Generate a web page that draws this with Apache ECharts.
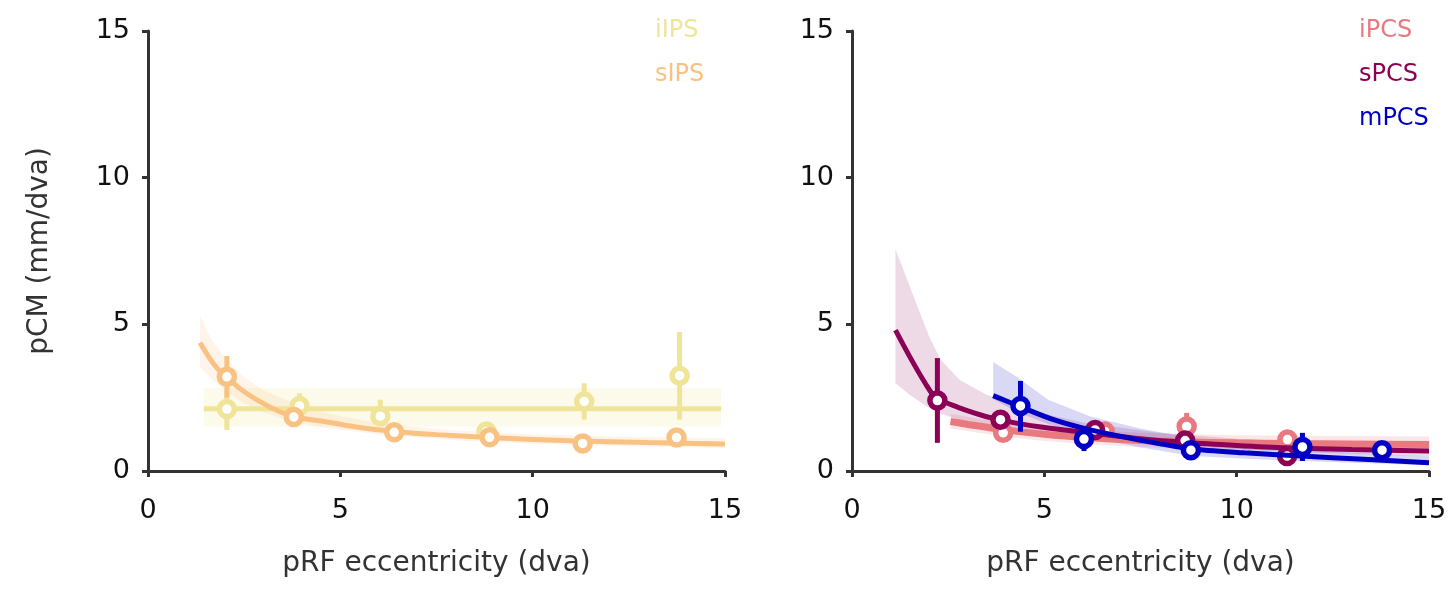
<!DOCTYPE html>
<html>
<head>
<meta charset="utf-8">
<script src="https://cdn.jsdelivr.net/npm/echarts@6/dist/echarts.min.js"></script>
<style>
html,body{margin:0;padding:0;background:#fff;}
#chart{width:1450px;height:589px;}
</style>
</head>
<body>
<div id="chart"></div>
<script>
// ---------- Data ----------
var xTicks = [0, 5, 10, 15];
var yTicks = [0, 5, 10, 15];

// Left panel: iIPS
var iIPS_x = [2.05, 3.94, 6.04, 8.8, 11.34, 13.82];
var iIPS_y = [2.11, 2.22, 1.87, 1.35, 2.37, 3.25];
var iIPS_lo = [1.40, 2.00, 1.70, 1.25, 1.75, 1.75];
var iIPS_hi = [2.75, 2.65, 2.43, 1.50, 2.99, 4.74];
var iIPS_fitX = [1.45, 14.9];
var iIPS_fitY = [2.12, 2.12];
var iIPS_bandHi = [2.82, 2.82];
var iIPS_bandLo = [1.52, 1.52];

// Left panel: sIPS
var sIPS_x = [2.05, 3.79, 6.4, 8.88, 11.3, 13.74];
var sIPS_y = [3.21, 1.84, 1.32, 1.15, 0.94, 1.14];
var sIPS_lo = [2.50, 1.78, 1.26, 1.10, 0.90, 1.08];
var sIPS_hi = [3.92, 1.92, 1.40, 1.22, 1.00, 1.20];
var sIPS_fitX = [1.35, 1.6, 1.8, 2.05, 2.4, 2.8, 3.3, 3.8, 4.7, 5.5, 6.4, 7.5, 9, 11, 13, 15];
var sIPS_fitY = [4.37, 3.85, 3.5, 3.2, 2.8, 2.45, 2.1, 1.85, 1.66, 1.48, 1.35, 1.24, 1.13, 1.03, 0.97, 0.92];
var sIPS_bandX = [1.35, 1.6, 2.0, 2.5, 3.0, 3.7, 4.7, 6, 8, 10, 12, 15];
var sIPS_bandHi = [5.3, 4.6, 3.85, 3.2, 2.75, 2.36, 1.95, 1.62, 1.38, 1.25, 1.18, 1.12];
var sIPS_bandLo = [3.55, 3.2, 2.75, 2.3, 2.0, 1.7, 1.45, 1.25, 1.05, 0.93, 0.86, 0.78];

// Right panel: iPCS
var iPCS_x = [3.93, 6.57, 8.7, 11.32];
var iPCS_y = [1.30, 1.35, 1.52, 1.07];
var iPCS_lo = [1.22, 1.28, 1.35, 0.95];
var iPCS_hi = [1.38, 1.42, 1.98, 1.20];
var iPCS_fitX = [2.56, 3.2, 3.93, 5, 6.2, 7.5, 8.7, 10, 11.3, 13, 15];
var iPCS_fitY = [1.69, 1.55, 1.41, 1.25, 1.13, 1.04, 0.99, 0.96, 0.94, 0.92, 0.9];
var iPCS_bandHi = [1.95, 1.8, 1.66, 1.5, 1.38, 1.3, 1.25, 1.22, 1.2, 1.19, 1.18];
var iPCS_bandLo = [1.45, 1.32, 1.18, 1.02, 0.9, 0.82, 0.76, 0.72, 0.7, 0.68, 0.66];

// Right panel: sPCS
var sPCS_x = [2.22, 3.86, 6.32, 8.66, 11.31];
var sPCS_y = [2.40, 1.75, 1.40, 1.04, 0.51];
var sPCS_lo = [0.96, 1.68, 1.33, 0.97, 0.45];
var sPCS_hi = [3.85, 1.82, 1.47, 1.11, 0.57];
var sPCS_fitX = [1.13, 1.5, 1.9, 2.2, 2.5, 2.9, 3.5, 4.2, 5.2, 6.2, 7.5, 8.7, 10, 11.3, 13, 15];
var sPCS_fitY = [4.8, 3.9, 3.0, 2.45, 2.3, 2.1, 1.85, 1.65, 1.45, 1.3, 1.1, 0.97, 0.87, 0.79, 0.73, 0.68];
var sPCS_bandX = [1.13, 1.5, 2.0, 2.3, 2.8, 3.5, 4.5, 6, 8, 10, 12, 15];
var sPCS_bandHi = [7.56, 6.3, 4.6, 3.8, 3.1, 2.6, 2.1, 1.65, 1.3, 1.1, 0.98, 0.9];
var sPCS_bandLo = [2.99, 2.6, 2.15, 1.95, 1.75, 1.55, 1.35, 1.15, 0.9, 0.75, 0.62, 0.5];

// Right panel: mPCS
var mPCS_x = [4.38, 6.03, 8.81, 11.71, 13.78];
var mPCS_y = [2.22, 1.09, 0.71, 0.82, 0.71];
var mPCS_lo = [1.34, 0.68, 0.62, 0.34, 0.62];
var mPCS_hi = [3.07, 1.41, 0.82, 1.30, 0.82];
var mPCS_fitX = [3.67, 4.36, 5.24, 6.17, 7.5, 8.81, 10.2, 11.68, 13.3, 15];
var mPCS_fitY = [2.57, 2.2, 1.75, 1.41, 1.05, 0.76, 0.62, 0.51, 0.4, 0.28];
var mPCS_bandX = [3.67, 4.3, 5.1, 6.2, 7.5, 8.8, 10.2, 11.5, 13, 15];
var mPCS_bandHi = [3.72, 3.2, 2.43, 1.86, 1.45, 1.13, 0.9, 0.75, 0.62, 0.5];
var mPCS_bandLo = [2.45, 2.0, 1.6, 1.15, 0.8, 0.52, 0.42, 0.35, 0.28, 0.2];

// ---------- Styling ----------
var FONT = 'DejaVu Sans';
var COL = {
  iIPS: '#f0e498', sIPS: '#f9c283',
  iPCS: '#e8797f', sPCS: '#8c0056', mPCS: '#0000c4'
};
var BAND = {
  iIPS: 'rgba(240,228,152,0.2)', sIPS: 'rgba(249,194,131,0.18)',
  iPCS: 'rgba(232,121,127,0.18)', sPCS: 'rgba(140,0,86,0.15)', mPCS: 'rgba(0,0,196,0.15)'
};

function zip(a, b) { return a.map(function (v, i) { return [v, b[i]]; }); }

function bandSeries(gi, xs, hi, lo, color) {
  return {
    type: 'custom', xAxisIndex: gi, yAxisIndex: gi, silent: true, z: 1,
    data: [[xs[0], lo[0]]],
    renderItem: function (params, api) {
      var top = [], bot = [];
      for (var i = 0; i < xs.length; i++) top.push(api.coord([xs[i], hi[i]]));
      for (var j = xs.length - 1; j >= 0; j--) bot.push(api.coord([xs[j], lo[j]]));
      return { type: 'polygon', shape: { points: top.concat(bot) }, style: { fill: color } };
    }
  };
}
function fitSeries(gi, xs, ys, color, w, z) {
  return {
    type: 'line', xAxisIndex: gi, yAxisIndex: gi, data: zip(xs, ys), smooth: 0.3,
    showSymbol: false, silent: true, z: z,
    lineStyle: { color: color, width: w, opacity: 1 }
  };
}
function errSeries(gi, xs, lo, hi, color, z) {
  return {
    type: 'custom', xAxisIndex: gi, yAxisIndex: gi, silent: true, z: z,
    data: xs.map(function (x, i) { return [x, lo[i], hi[i]]; }),
    encode: { x: 0, y: [1, 2] },
    renderItem: function (params, api) {
      var a = api.coord([api.value(0), api.value(1)]);
      var b = api.coord([api.value(0), api.value(2)]);
      return { type: 'line', shape: { x1: a[0], y1: a[1], x2: b[0], y2: b[1] },
               style: { stroke: color, lineWidth: 5 } };
    }
  };
}
function ptSeries(gi, xs, ys, color, z) {
  return {
    type: 'scatter', xAxisIndex: gi, yAxisIndex: gi, data: zip(xs, ys), silent: true, z: z,
    symbol: 'circle', symbolSize: 15,
    itemStyle: { color: '#ffffff', borderColor: color, borderWidth: 5.5, opacity: 1 }
  };
}

function xAxisDef(gi) {
  return {
    type: 'value', gridIndex: gi, min: xTicks[0], max: xTicks[xTicks.length - 1], interval: 5,
    name: 'pRF eccentricity (dva)', nameLocation: 'middle', nameGap: 79,
    nameTextStyle: { fontFamily: FONT, fontSize: 28, color: '#333' },
    axisLine: { lineStyle: { color: '#333', width: 3 } },
    axisTick: { length: 6, lineStyle: { color: '#333', width: 3 } },
    axisLabel: { fontFamily: FONT, fontSize: 27, color: '#111', margin: 26 },
    splitLine: { show: false }
  };
}
function yAxisDef(gi, withName) {
  return {
    type: 'value', gridIndex: gi, min: yTicks[0], max: yTicks[yTicks.length - 1], interval: 5,
    name: withName ? 'pCM (mm/dva)' : '', nameLocation: 'middle', nameGap: 94,
    nameTextStyle: { fontFamily: FONT, fontSize: 28, color: '#333' },
    axisLine: { lineStyle: { color: '#333', width: 3 } },
    axisTick: { length: 6, lineStyle: { color: '#333', width: 3 } },
    axisLabel: { fontFamily: FONT, fontSize: 27, color: '#111', margin: 18 },
    splitLine: { show: false }
  };
}

function legendText(x, y, txt, color) {
  return { type: 'text', left: x, top: y, style: { text: txt, fill: color, font: '24px "' + FONT + '"' } };
}

var chart = echarts.init(document.getElementById('chart'), null, { renderer: 'canvas' });
chart.setOption({
  animation: false,
  backgroundColor: '#ffffff',
  grid: [
    { left: 148, top: 31, width: 577, height: 440 },
    { left: 852, top: 31, width: 577, height: 440 }
  ],
  xAxis: [xAxisDef(0), xAxisDef(1)],
  yAxis: [yAxisDef(0, true), yAxisDef(1, false)],
  graphic: [
    legendText(655, 19, 'iIPS', COL.iIPS),
    legendText(655, 63, 'sIPS', COL.sIPS),
    legendText(1359, 19, 'iPCS', COL.iPCS),
    legendText(1359, 63, 'sPCS', COL.sPCS),
    legendText(1359, 107, 'mPCS', COL.mPCS)
  ],
  series: [
    // left panel
    bandSeries(0, iIPS_fitX, iIPS_bandHi, iIPS_bandLo, BAND.iIPS),
    bandSeries(0, sIPS_bandX, sIPS_bandHi, sIPS_bandLo, BAND.sIPS),
    fitSeries(0, iIPS_fitX, iIPS_fitY, COL.iIPS, 5, 3),
    errSeries(0, iIPS_x, iIPS_lo, iIPS_hi, COL.iIPS, 4),
    ptSeries(0, iIPS_x, iIPS_y, COL.iIPS, 5),
    fitSeries(0, sIPS_fitX, sIPS_fitY, COL.sIPS, 5, 6),
    errSeries(0, sIPS_x, sIPS_lo, sIPS_hi, COL.sIPS, 7),
    ptSeries(0, sIPS_x, sIPS_y, COL.sIPS, 8),
    // right panel
    bandSeries(1, iPCS_fitX, iPCS_bandHi, iPCS_bandLo, BAND.iPCS),
    bandSeries(1, sPCS_bandX, sPCS_bandHi, sPCS_bandLo, BAND.sPCS),
    bandSeries(1, mPCS_bandX, mPCS_bandHi, mPCS_bandLo, BAND.mPCS),
    fitSeries(1, iPCS_fitX, iPCS_fitY, COL.iPCS, 7, 3),
    errSeries(1, iPCS_x, iPCS_lo, iPCS_hi, COL.iPCS, 4),
    ptSeries(1, iPCS_x, iPCS_y, COL.iPCS, 5),
    fitSeries(1, sPCS_fitX, sPCS_fitY, COL.sPCS, 5, 6),
    errSeries(1, sPCS_x, sPCS_lo, sPCS_hi, COL.sPCS, 7),
    ptSeries(1, sPCS_x, sPCS_y, COL.sPCS, 8),
    fitSeries(1, mPCS_fitX, mPCS_fitY, COL.mPCS, 5, 9),
    errSeries(1, mPCS_x, mPCS_lo, mPCS_hi, COL.mPCS, 10),
    ptSeries(1, mPCS_x, mPCS_y, COL.mPCS, 11)
  ]
});
</script>
</body>
</html>
